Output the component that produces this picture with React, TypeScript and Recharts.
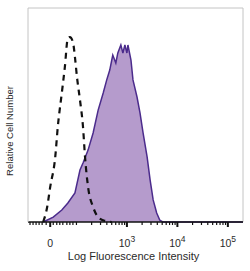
import {
  ComposedChart,
  Area,
  Line,
  XAxis,
  YAxis,
  ReferenceLine,
} from "recharts";

// x values are in display units: log10 above ~100, compressed/linear near zero (0 sits at 1.48)
const isotypeX = [1.34, 1.42, 1.48, 1.58, 1.63, 1.71, 1.77, 1.83, 1.87, 1.93, 1.97, 2.01, 2.07, 2.13, 2.17, 2.23, 2.33, 2.43, 2.57, 2.7];
const isotypeY = [0, 7, 16.4, 30.4, 44.4, 60.3, 72.4, 86, 86.4, 84.1, 77.1, 67.8, 57, 44.4, 30.4, 16.4, 7, 2.3, 0.5, 0];

const stainedX = [1.34, 1.54, 1.71, 1.83, 1.97, 2.07, 2.13, 2.23, 2.33, 2.43, 2.53, 2.6, 2.66, 2.7, 2.72, 2.78, 2.82, 2.88, 2.92, 2.96, 3.0, 3.02, 3.08, 3.12, 3.2, 3.26, 3.32, 3.4, 3.46, 3.52, 3.59, 3.65, 3.71, 5.3];
const stainedY = [0, 2.3, 5.6, 8.9, 13.6, 24.3, 27.6, 33.6, 41.6, 52.3, 60.3, 66.4, 71, 75.7, 78, 74.3, 79, 82.7, 79, 82.7, 79, 82.7, 75.7, 66.4, 58.4, 50.9, 41.6, 30.4, 19.6, 10.3, 4.2, 0.9, 0, 0];

const majorTicks = [1.48, 3, 4, 5];
const majorLabels = ["0", "10|3", "10|4", "10|5"];
const lowMinorTicks = [1.08, 1.14, 1.2, 1.26, 1.32, 1.4, 1.54, 1.61, 1.67, 1.73, 1.81, 1.87, 1.93];

const logMinor: number[] = [];
[2, 3, 4].forEach((d) => {
  if (d === 2) logMinor.push(2);
  for (let k = 2; k <= 9; k++) logMinor.push(d + Math.log10(k));
});
const allTicks = [...lowMinorTicks, ...majorTicks, ...logMinor].sort((a, b) => a - b);

const rows: { x: number; neg?: number; pos?: number }[] = [];
isotypeX.forEach((x, i) => rows.push({ x, neg: isotypeY[i] }));
stainedX.forEach((x, i) => {
  const r = rows.find((row) => row.x === x);
  if (r) r.pos = stainedY[i];
  else rows.push({ x, pos: stainedY[i] });
});
rows.sort((a, b) => a.x - b.x);

const FONT = "'Liberation Sans', Arial, sans-serif";

const AxisTick = (props: any) => {
  const { x, y, payload } = props;
  const idx = majorTicks.indexOf(payload.value);
  const major = idx >= 0;
  const [base, sup] = major ? majorLabels[idx].split("|") : ["", ""];
  return (
    <g>
      <line x1={x} x2={x} y1={y} y2={y + (major ? 5 : 3)} stroke="#111" strokeWidth={major ? 2 : 1.2} />
      {major && (
        <text x={x} y={y + 25} textAnchor="middle" fontSize={10.5} fill="#2a2a2a" fontFamily={FONT}>
          <tspan>{base}</tspan>
          {sup && (
            <tspan dy={-5} fontSize={8.5}>
              {sup}
            </tspan>
          )}
        </text>
      )}
    </g>
  );
};

export default function App() {
  return (
    <div style={{ position: "absolute", left: 0, top: 0, background: "#fff" }}>
      <ComposedChart
        width={250}
        height={271}
        data={rows}
        margin={{ top: 8, right: 7, bottom: 0, left: 0 }}
      >
        <XAxis
          dataKey="x"
          type="number"
          domain={[1.04, 5.3]}
          allowDataOverflow
          ticks={allTicks}
          interval={0}
          tickLine={false}
          tickSize={0}
          tickMargin={0}
          height={49}
          axisLine={{ stroke: "#111", strokeWidth: 1.5 }}
          tick={<AxisTick />}
          label={{
            content: (p: any) => {
              const vb = p.viewBox;
              return (
                <text
                  x={vb.x + vb.width / 2 - 2}
                  y={vb.y + 38}
                  textAnchor="middle"
                  fontSize={11}
                  fill="#2a2a2a"
                  fontFamily={FONT}
                >
                  Log Fluorescence Intensity
                </text>
              );
            },
          }}
        />
        <YAxis
          type="number"
          domain={[0, 100]}
          width={28}
          tick={false}
          tickLine={false}
          axisLine={{ stroke: "#c4c4c4" }}
          label={{
            content: (p: any) => {
              const vb = p.viewBox;
              const cx = 13;
              const cy = vb.y + vb.height / 2 + 16;
              return (
                <text
                  x={cx}
                  y={cy}
                  transform={`rotate(-90 ${cx} ${cy})`}
                  textAnchor="middle"
                  fontSize={9.5}
                  fill="#2a2a2a"
                  fontFamily={FONT}
                >
                  Relative Cell Number
                </text>
              );
            },
          }}
        />
        <ReferenceLine y={100} stroke="#c4c4c4" />
        <ReferenceLine x={5.3} stroke="#c4c4c4" />
        <Area
          type="linear"
          dataKey="pos"
          connectNulls
          fill="#b59bcc"
          fillOpacity={1}
          stroke="#4b2b8c"
          strokeWidth={1.5}
          dot={false}
          activeDot={false}
          isAnimationActive={false}
        />
        <Line
          type="monotone"
          dataKey="neg"
          connectNulls
          stroke="#111"
          strokeWidth={2.2}
          strokeDasharray="6 5"
          dot={false}
          activeDot={false}
          isAnimationActive={false}
        />
      </ComposedChart>
    </div>
  );
}
